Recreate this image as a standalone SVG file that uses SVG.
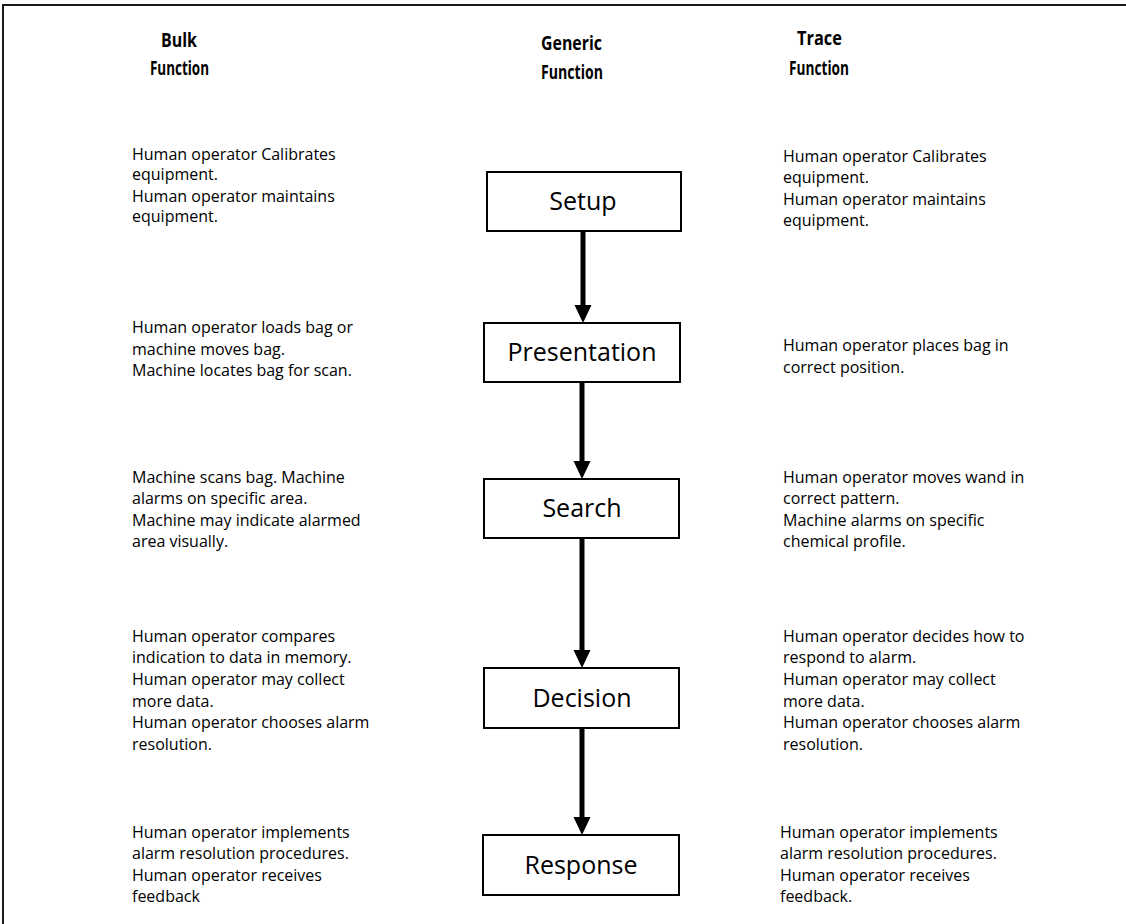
<svg xmlns="http://www.w3.org/2000/svg" width="1126" height="924" viewBox="0 0 1126 924">
  <style>
    .frame { fill: none; stroke: #1a1a1a; stroke-width: 2; }
    .box { fill: #ffffff; stroke: #000000; stroke-width: 2; }
    .label { font-family: "Open Sans", "Noto Sans", sans-serif; font-size: 25px; fill: #000; text-anchor: middle; }
    .head { font-family: "Open Sans", "Noto Sans", sans-serif; font-size: 20px; font-weight: 700; fill: #000; text-anchor: middle; }
    .note { font-family: "Open Sans", "Noto Sans", sans-serif; font-size: 16px; fill: #000; }
    .link { stroke: #000; stroke-width: 5; fill: none; }
  </style>
  <defs>
    <marker id="arrow" markerUnits="userSpaceOnUse" markerWidth="18" markerHeight="18" refX="4" refY="8.5" orient="auto">
      <path d="M0,0 L18,8.5 L0,17 Z" fill="#000"/>
    </marker>
  </defs>

  <rect width="1126" height="924" fill="#ffffff"/>
  <!-- page frame: top and left edges -->
  <path class="frame" d="M3,924 V5 H1126"/>

  <!-- column headings -->
  <g id="heading-bulk">
    <text class="head" x="179" y="47" textLength="36" lengthAdjust="spacingAndGlyphs">Bulk</text>
    <text class="head" x="179.5" y="75" textLength="59" lengthAdjust="spacingAndGlyphs">Function</text>
  </g>
  <g id="heading-generic">
    <text class="head" x="571.5" y="50" textLength="61" lengthAdjust="spacingAndGlyphs">Generic</text>
    <text class="head" x="572" y="79" textLength="62" lengthAdjust="spacingAndGlyphs">Function</text>
  </g>
  <g id="heading-trace">
    <text class="head" x="819.5" y="45" textLength="45" lengthAdjust="spacingAndGlyphs">Trace</text>
    <text class="head" x="819" y="75" textLength="60" lengthAdjust="spacingAndGlyphs">Function</text>
  </g>

  <!-- connectors -->
  <g id="connectors">
    <line class="link" x1="583" y1="232" x2="583" y2="309" marker-end="url(#arrow)"/>
    <line class="link" x1="582" y1="383" x2="582" y2="465" marker-end="url(#arrow)"/>
    <line class="link" x1="582" y1="539" x2="582" y2="654" marker-end="url(#arrow)"/>
    <line class="link" x1="582" y1="729" x2="582" y2="821" marker-end="url(#arrow)"/>
  </g>

  <!-- generic function steps -->
  <g id="setup">
    <rect class="box" x="487" y="172" width="194" height="59"/>
    <text class="label" x="583" y="210">Setup</text>
  </g>
  <g id="presentation">
    <rect class="box" x="484" y="323" width="196" height="59"/>
    <text class="label" x="582" y="361">Presentation</text>
  </g>
  <g id="search">
    <rect class="box" x="484" y="479" width="195" height="59"/>
    <text class="label" x="582" y="517">Search</text>
  </g>
  <g id="decision">
    <rect class="box" x="484" y="668" width="195" height="60"/>
    <text class="label" x="582" y="707">Decision</text>
  </g>
  <g id="response">
    <rect class="box" x="483" y="835" width="196" height="60"/>
    <text class="label" x="581" y="874">Response</text>
  </g>

  <!-- bulk function notes -->
  <g id="bulk-setup" class="note">
    <text x="132" y="160">Human operator Calibrates</text>
    <text x="132" y="180">equipment.</text>
    <text x="132" y="202">Human operator maintains</text>
    <text x="132" y="222">equipment.</text>
  </g>
  <g id="bulk-presentation" class="note">
    <text x="132" y="333">Human operator loads bag or</text>
    <text x="132" y="355">machine moves bag.</text>
    <text x="132" y="376">Machine locates bag for scan.</text>
  </g>
  <g id="bulk-search" class="note">
    <text x="132" y="483">Machine scans bag. Machine</text>
    <text x="132" y="504">alarms on specific area.</text>
    <text x="132" y="526">Machine may indicate alarmed</text>
    <text x="132" y="547">area visually.</text>
  </g>
  <g id="bulk-decision" class="note">
    <text x="132" y="642">Human operator compares</text>
    <text x="132" y="663">indication to data in memory.</text>
    <text x="132" y="685">Human operator may collect</text>
    <text x="132" y="707">more data.</text>
    <text x="132" y="728">Human operator chooses alarm</text>
    <text x="132" y="750">resolution.</text>
  </g>
  <g id="bulk-response" class="note">
    <text x="132" y="838">Human operator implements</text>
    <text x="132" y="859">alarm resolution procedures.</text>
    <text x="132" y="881">Human operator receives</text>
    <text x="132" y="902">feedback</text>
  </g>

  <!-- trace function notes -->
  <g id="trace-setup" class="note">
    <text x="783" y="162">Human operator Calibrates</text>
    <text x="783" y="183">equipment.</text>
    <text x="783" y="205">Human operator maintains</text>
    <text x="783" y="226">equipment.</text>
  </g>
  <g id="trace-presentation" class="note">
    <text x="783" y="351">Human operator places bag in</text>
    <text x="783" y="373">correct position.</text>
  </g>
  <g id="trace-search" class="note">
    <text x="783" y="483">Human operator moves wand in</text>
    <text x="783" y="504">correct pattern.</text>
    <text x="783" y="526">Machine alarms on specific</text>
    <text x="783" y="547">chemical profile.</text>
  </g>
  <g id="trace-decision" class="note">
    <text x="783" y="642">Human operator decides how to</text>
    <text x="783" y="663">respond to alarm.</text>
    <text x="783" y="685">Human operator may collect</text>
    <text x="783" y="707">more data.</text>
    <text x="783" y="728">Human operator chooses alarm</text>
    <text x="783" y="750">resolution.</text>
  </g>
  <g id="trace-response" class="note">
    <text x="780" y="838">Human operator implements</text>
    <text x="780" y="859">alarm resolution procedures.</text>
    <text x="780" y="881">Human operator receives</text>
    <text x="780" y="902">feedback.</text>
  </g>
</svg>
